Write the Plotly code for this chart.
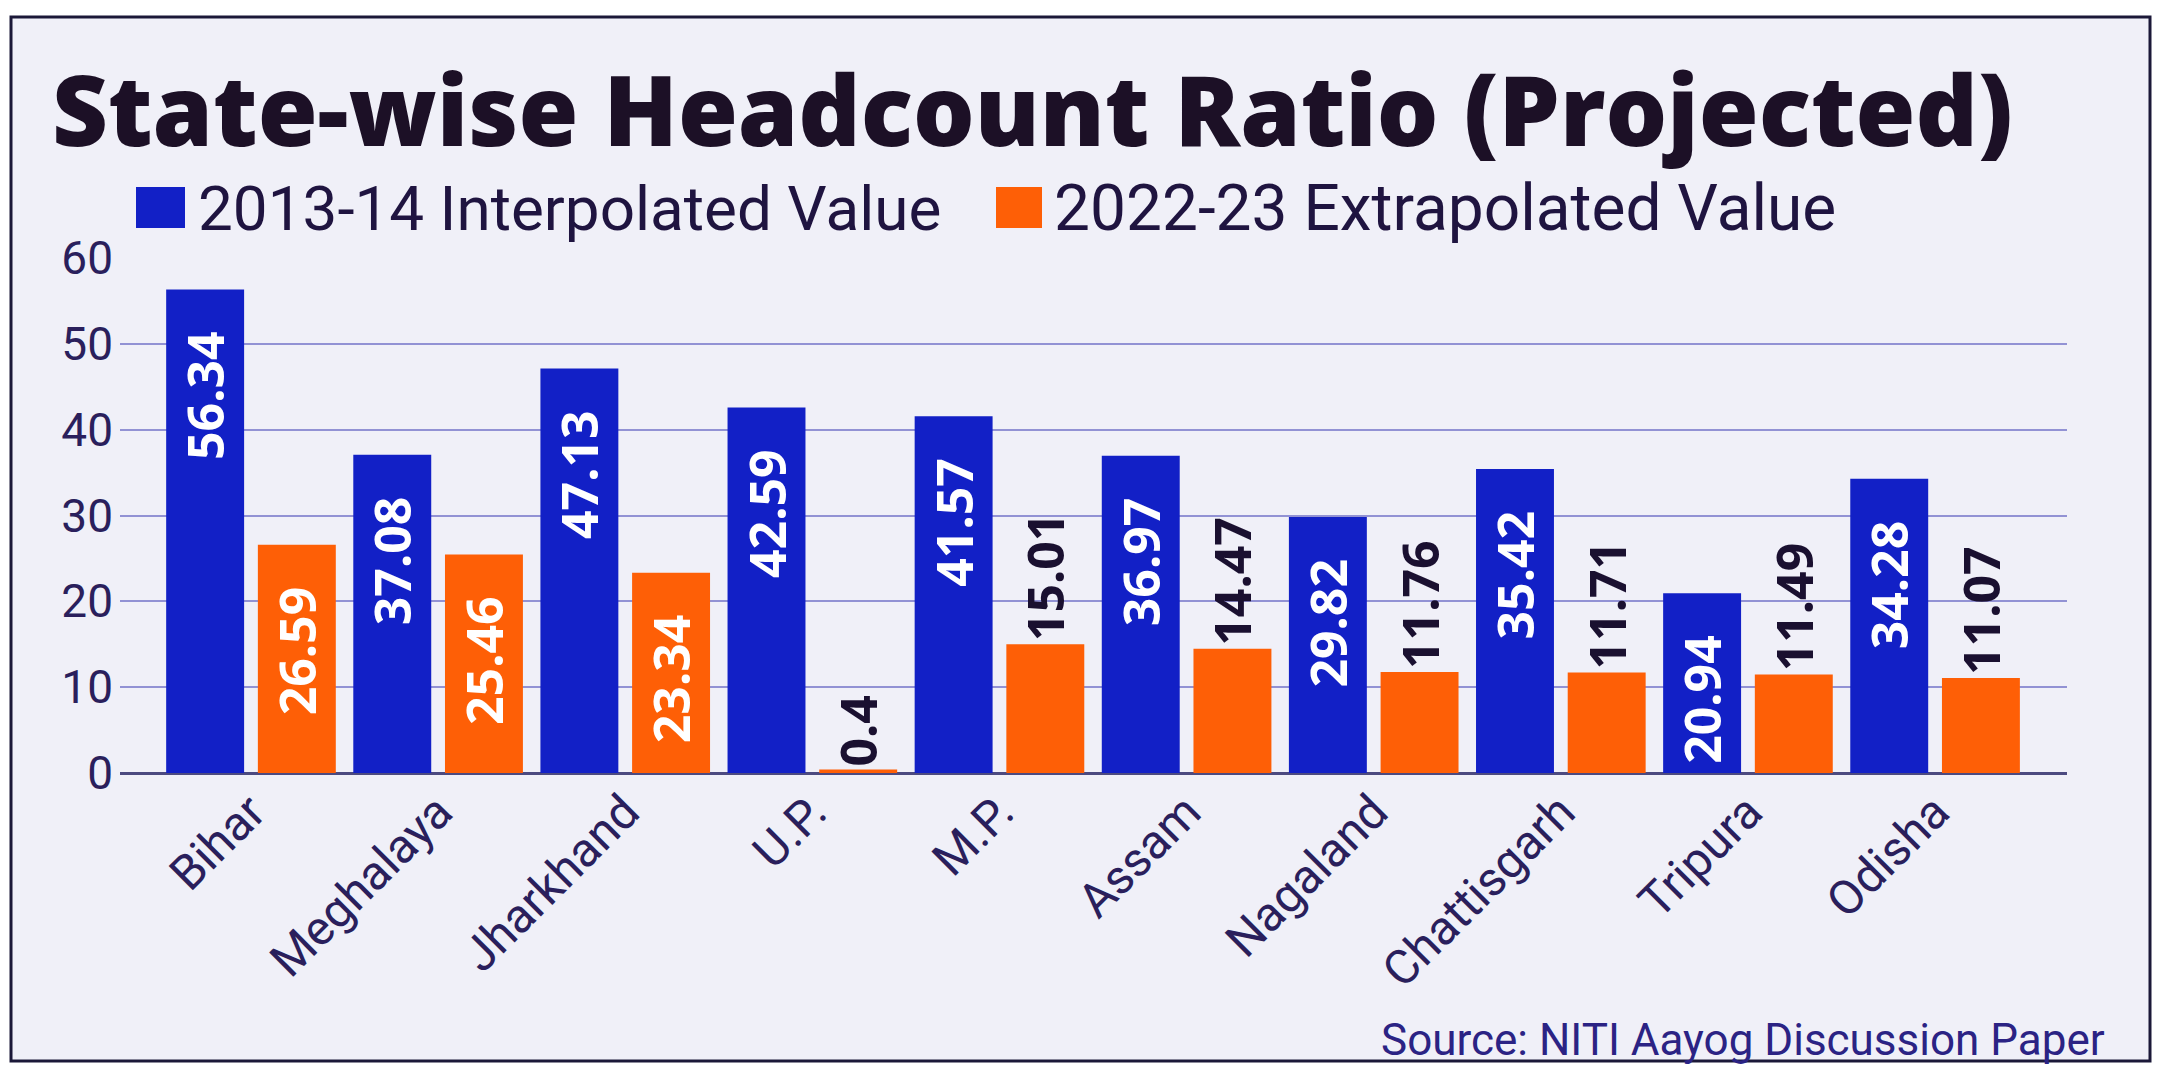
import plotly.graph_objects as go

# ---------------- data ----------------
states = ["Bihar", "Meghalaya", "Jharkhand", "U.P.", "M.P.", "Assam",
          "Nagaland", "Chattisgarh", "Tripura", "Odisha"]
hcr_2013_14 = [56.34, 37.08, 47.13, 42.59, 41.57, 36.97, 29.82, 35.42, 20.94, 34.28]
hcr_2022_23 = [26.59, 25.46, 23.34, 0.4, 15.01, 14.47, 11.76, 11.71, 11.49, 11.07]
series_names = ["2013-14 Interpolated Value", "2022-23 Extrapolated Value"]
y_ticks = [0, 10, 20, 30, 40, 50, 60]
title_text = "State-wise Headcount Ratio (Projected)"
source_text = "Source: NITI Aayog Discussion Paper"

# ---------------- style ----------------
BLUE = "#1220c6"
ORANGE = "#fe5f06"
BG = "#f0f0f8"
BORDER = "#1b1838"
GRID = "#9292d4"
ZERO = "#4c4a80"
TICK = "#2a1f5c"
TITLE = "#1c1026"
SOURCE = "#2b2384"
DARK = "#1a1030"
INSIDE_MIN = 18  # labels go inside the bar only when the bar is tall enough

W, H = 2166, 1076
L, R, T, B = 120, 99, 258, 303
PW, PH = W - L - R, H - T - B


def px_x(px):
    return (px - L) / PW


def px_y(py):
    return (H - B - py) / PH


fig = go.Figure()
for name, vals, color in zip(series_names, [hcr_2013_14, hcr_2022_23], [BLUE, ORANGE]):
    fig.add_trace(go.Bar(
        x=states, y=vals, name=name,
        marker=dict(color=color, line=dict(width=0)),
        text=[f"{v}" for v in vals],
        texttemplate="%{text}&nbsp;&nbsp;&nbsp;",
        textposition=["inside" if v >= INSIDE_MIN else "outside" for v in vals],
        textangle=-90,
        insidetextanchor="end",
        insidetextfont=dict(family="Open Sans", size=50, color="white", weight=700),
        outsidetextfont=dict(family="Open Sans", size=50, color=DARK, weight=700),
        constraintext="none",
        cliponaxis=False,
        showlegend=False,
        hoverinfo="skip",
    ))

shapes = [
    # outer framed panel
    dict(type="rect", xref="paper", yref="paper", layer="below",
         x0=px_x(11), x1=px_x(2150), y0=px_y(1061), y1=px_y(17),
         fillcolor=BG, line=dict(color=BORDER, width=3)),
    # legend swatches
    dict(type="rect", xref="paper", yref="paper",
         x0=px_x(136), x1=px_x(185), y0=px_y(228), y1=px_y(187),
         fillcolor=BLUE, line=dict(width=0)),
    dict(type="rect", xref="paper", yref="paper",
         x0=px_x(996), x1=px_x(1042), y0=px_y(228), y1=px_y(187),
         fillcolor=ORANGE, line=dict(width=0)),
]

annotations = [
    dict(text=title_text, xref="paper", yref="paper", x=px_x(1032), y=px_y(108),
         xanchor="center", yanchor="middle", showarrow=False,
         font=dict(family="Open Sans", size=97, color=TITLE, weight=800)),
    dict(text=series_names[0], xref="paper", yref="paper", x=px_x(196), y=px_y(209),
         xanchor="left", yanchor="middle", showarrow=False,
         font=dict(family="Roboto", size=62, color="#1f1440")),
    dict(text=series_names[1], xref="paper", yref="paper", x=px_x(1052), y=px_y(209),
         xanchor="left", yanchor="middle", showarrow=False,
         font=dict(family="Roboto", size=64, color="#1f1440")),
    dict(text=source_text, xref="paper", yref="paper", x=px_x(2107), y=px_y(1040),
         xanchor="right", yanchor="middle", showarrow=False,
         font=dict(family="Roboto", size=44, color=SOURCE)),
]

fig.update_layout(
    width=W, height=H,
    margin=dict(l=L, r=R, t=T, b=B, autoexpand=False),
    paper_bgcolor="white",
    plot_bgcolor="rgba(0,0,0,0)",
    barmode="group",
    bargap=0.02,
    bargroupgap=0.15,
    shapes=shapes,
    annotations=annotations,
    showlegend=False,
    xaxis=dict(
        type="category", range=[-0.70, 9.705],
        tickangle=-45, tickfont=dict(family="Roboto", size=48, color=TICK),
        showgrid=False, showline=False, ticks="", zeroline=False,
    ),
    yaxis=dict(
        range=[0, 60], tickvals=y_ticks, ticktext=[str(t) for t in y_ticks],
        showgrid=True, gridcolor=GRID, gridwidth=2,
        zeroline=True, zerolinecolor=ZERO, zerolinewidth=3,
        showline=False, ticks="", ticklabelstandoff=6,
        tickfont=dict(family="Roboto", size=46, color=TICK),
    ),
)

fig.write_html("out.html")
